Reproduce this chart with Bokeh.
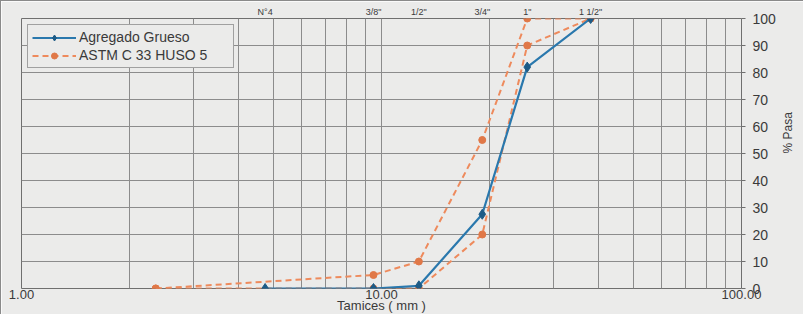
import math
from bokeh.plotting import figure
from bokeh.models import (LogAxis, FixedTicker, Range1d, Legend, LegendItem)
from bokeh.embed import file_html
from bokeh.resources import INLINE

# ---- data ----
sieve_sizes = [4.75, 9.5, 12.7, 19.05, 25.4, 38.1]
sieve_names = ["N°4", '3/8"', '1/2"', '3/4"', '1"', '1 1/2"']

grueso_mm = [4.75, 9.5, 12.7, 19.05, 25.4, 38.1]
grueso_pasa = [0, 0, 1, 27.5, 82, 100]

huso_mm = [2.36, 9.5, 12.7, 19.05, 25.4, 38.1]
huso_sup = [0, 5, 10, 55, 100, 100]
huso_inf = [0, 0, 0, 20, 90, 100]

x_major = [1, 10, 100]
x_minor = [2, 3, 4, 5, 6, 7, 8, 9, 20, 30, 40, 50, 60, 70, 80, 90]
y_ticks = list(range(0, 101, 10))

BG = "#ebebea"
GRID = "#8c8c8c"
TXT = "#3a3a3a"
BLUE = "#2a78ad"
BLUE_M = "#1d5b86"
ORANGE = "#ee8a5c"
ORANGE_M = "#e07848"
FONT = "Liberation Sans"

p = figure(width=803, height=314, x_axis_type="log",
           x_range=Range1d(1, 100), y_range=Range1d(0, 100),
           output_backend="svg", toolbar_location=None,
           y_axis_location="right",
           background_fill_color=BG, border_fill_color=BG,
           min_border_left=20, min_border_right=61,
           min_border_top=17, min_border_bottom=27)
p.outline_line_color = "#6f6f6f"
p.outline_line_width = 1
p.styles = {"border-top": "1px solid #8a8a8a", "border-left": "1px solid #8a8a8a"}

# bottom x axis
xa = p.xaxis[0]
xa.ticker = FixedTicker(ticks=x_major, minor_ticks=x_minor)
xa.major_label_overrides = {1: "1.00", 10: "10.00", 100: "100.00"}
xa.axis_line_color = None
xa.major_tick_line_color = None
xa.minor_tick_line_color = None
xa.major_tick_out = 0
xa.major_tick_in = 0
xa.minor_tick_out = 0
xa.minor_tick_in = 0
xa.major_label_standoff = 1
xa.major_label_text_font = FONT
xa.major_label_text_font_size = "13px"
xa.major_label_text_color = TXT
xa.axis_label = "Tamices ( mm )"
xa.axis_label_text_font = FONT
xa.axis_label_text_font_style = "normal"
xa.axis_label_text_font_size = "13px"
xa.axis_label_text_color = TXT
xa.axis_label_standoff = -4

# right y axis
ya = p.yaxis[0]
ya.ticker = FixedTicker(ticks=y_ticks)
ya.axis_line_color = None
ya.major_tick_line_color = "#6f6f6f"
ya.major_tick_in = 0
ya.major_tick_out = 4
ya.minor_tick_line_color = None
ya.minor_tick_in = 0
ya.minor_tick_out = 0
ya.major_label_standoff = 7
ya.major_label_text_font = FONT
ya.major_label_text_font_size = "14px"
ya.major_label_text_color = TXT
ya.axis_label = "% Pasa"
ya.axis_label_text_font = FONT
ya.axis_label_text_font_style = "normal"
ya.axis_label_text_font_size = "12px"
ya.axis_label_text_color = TXT
ya.axis_label_standoff = 9
ya.axis_label_orientation = math.pi / 2

# top sieve axis
top = LogAxis(ticker=FixedTicker(ticks=sieve_sizes),
              major_label_overrides={s: n for s, n in zip(sieve_sizes, sieve_names)})
top.axis_line_color = None
top.major_tick_line_color = None
top.minor_tick_line_color = None
top.major_tick_out = 0
top.major_tick_in = 0
top.minor_tick_out = 0
top.minor_tick_in = 0
top.major_label_standoff = 2
top.major_label_text_font = FONT
top.major_label_text_font_size = "9px"
top.major_label_text_color = TXT
p.add_layout(top, "above")

# grids
p.xgrid.grid_line_color = GRID
p.xgrid.minor_grid_line_color = GRID
p.xgrid.grid_line_width = 1
p.xgrid.minor_grid_line_width = 1
p.ygrid.grid_line_color = GRID
p.ygrid.grid_line_width = 1

# series
l_inf = p.line(huso_mm, huso_inf, line_color=ORANGE, line_width=2, line_dash="6 4")
m_inf = p.scatter(huso_mm, huso_inf, marker="circle", size=7, fill_color=ORANGE_M, line_color=ORANGE_M)
l_sup = p.line(huso_mm, huso_sup, line_color=ORANGE, line_width=2, line_dash="6 4")
m_sup = p.scatter(huso_mm, huso_sup, marker="circle", size=7, fill_color=ORANGE_M, line_color=ORANGE_M)

l_g = p.line(grueso_mm, grueso_pasa, line_color=BLUE, line_width=2.2)
m_g = p.scatter(grueso_mm, grueso_pasa, marker="diamond", size=10, fill_color=BLUE_M, line_color=BLUE_M)

legend = Legend(items=[
    LegendItem(label="Agregado Grueso", renderers=[l_g, m_g]),
    LegendItem(label="ASTM C 33 HUSO 5", renderers=[l_sup, m_sup]),
], location="top_left")
legend.margin = 6
legend.padding = 4
legend.spacing = 2
legend.glyph_width = 44
legend.glyph_height = 15
legend.label_height = 15
legend.label_standoff = 3
legend.label_width = 150
legend.label_text_font = FONT
legend.label_text_font_size = "14px"
legend.label_text_color = TXT
legend.background_fill_color = BG
legend.background_fill_alpha = 1
legend.border_line_color = "#555555"
legend.border_line_width = 1
p.add_layout(legend, "center")

open("out.html", "w").write(file_html(p, INLINE))
